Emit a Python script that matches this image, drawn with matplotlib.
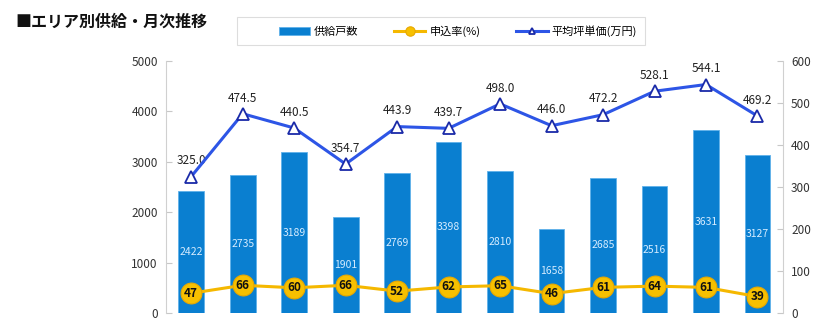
import matplotlib.pyplot as plt
from matplotlib.patches import Rectangle
import numpy as np

plt.rcParams['font.family'] = ['Noto Sans CJK JP', 'DejaVu Sans']

# データ
months = list(range(12))
kyokyu = [2422, 2735, 3189, 1901, 2769, 3398, 2810, 1658, 2685, 2516, 3631, 3127]
moushikomi = [47, 66, 60, 66, 52, 62, 65, 46, 61, 64, 61, 39]
tanka = [325.0, 474.5, 440.5, 354.7, 443.9, 439.7, 498.0, 446.0, 472.2, 528.1, 544.1, 469.2]

bar_color = '#0a7fd0'
rate_color = '#f5b800'
price_color = '#2d55e6'

W, H = 830, 323
fig = plt.figure(figsize=(8.3, 3.23), dpi=100)
ax = fig.add_axes([0.2, 0.031, 0.743, 0.78])
ax2 = ax.twinx()

x = np.array(months)
bars = ax.bar(x, kyokyu, width=0.5, color=bar_color, edgecolor='#5fb2ea', linewidth=0.6,
              label='供給戸数', zorder=2)
for xi, v in zip(x, kyokyu):
    ax.text(xi, v / 2, str(v), ha='center', va='center', fontsize=7.5, color='#d6ecff', zorder=3)

ax.set_xlim(-0.49, 11.49)
ax.set_ylim(0, 5000)
ax.set_yticks(range(0, 5001, 1000))
ax.set_xticks([])

line_price, = ax2.plot(x, tanka, color=price_color, linewidth=2.2, marker='^', markersize=9,
                       markerfacecolor='white', markeredgecolor='#1a2aa8', markeredgewidth=1.3,
                       label='平均坪単価(万円)', zorder=4)
for xi, v in zip(x, tanka):
    ax2.text(xi, v + 22, f'{v:.1f}', ha='center', va='bottom', fontsize=8.5, color='#222222')

line_rate, = ax2.plot(x, moushikomi, color=rate_color, linewidth=2.2, marker='o', markersize=15,
                      markerfacecolor='#f7c000', markeredgecolor='#e8a800', markeredgewidth=0.8,
                      label='申込率(%)', zorder=5)
for xi, v in zip(x, moushikomi):
    ax2.text(xi, v, str(v), ha='center', va='center', fontsize=8.5, fontweight='bold',
             color='#111111', zorder=6)

ax2.set_ylim(0, 600)
ax2.set_yticks(range(0, 601, 100))

for a in (ax, ax2):
    for s in ('top', 'bottom'):
        a.spines[s].set_visible(False)
    a.spines['left'].set_color('#d0d0d0')
    a.spines['right'].set_color('#d0d0d0')
    a.tick_params(axis='y', direction='in', length=4, color='#c8c8c8', labelsize=8.5,
                  labelcolor='#333333', pad=6)
ax.spines['right'].set_visible(False)
ax2.spines['left'].set_visible(False)
ax.tick_params(axis='x', length=0)

fig.text(15 / W, 1 - 27 / H, '■エリア別供給・月次推移', fontsize=11.5, fontweight='bold',
         color='#111111')

# 凡例の枠
fig.patches.append(Rectangle((237 / W, 1 - 45 / H), 408 / W, 28 / H, transform=fig.transFigure,
                             facecolor='white', edgecolor='#dddddd', linewidth=0.8))
handles = [bars, line_rate, line_price]
leg = fig.legend(handles, [h.get_label() for h in handles], loc='center',
                 bbox_to_anchor=(458 / W, 1 - 31 / H), ncol=3, fontsize=8, frameon=False,
                 handlelength=2.8, columnspacing=3.2, handletextpad=0.4, markerscale=0.45)

fig.savefig('out.png', dpi=100)
